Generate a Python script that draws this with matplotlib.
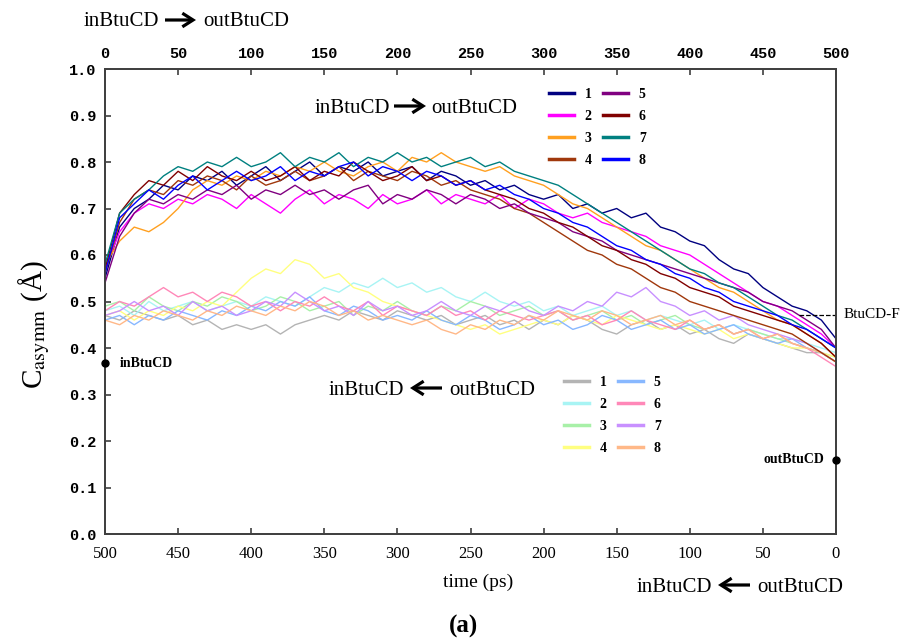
"""
Casymm vs time for the inBtuCD <-> outBtuCD transitions
"""

import numpy as np
import matplotlib
matplotlib.use('Agg')
import matplotlib.pyplot as plt
from matplotlib.patches import FancyArrowPatch

plt.rcParams['mathtext.fontset'] = 'stix'

# time grid (ps), every 10 ps
time_ps = list(range(0, 501, 10))
time_back = list(range(500, -1, -10))

# inBtuCD -> outBtuCD runs (top axis)
fwd_1 = [0.55, 0.66, 0.70, 0.72, 0.75, 0.74, 0.77, 0.76, 0.78, 0.75,
         0.77, 0.79, 0.76, 0.78, 0.80, 0.77, 0.79, 0.78, 0.80, 0.77,
         0.78, 0.79, 0.76, 0.78, 0.77, 0.75, 0.76, 0.74, 0.75, 0.73,
         0.72, 0.73, 0.70, 0.71, 0.69, 0.70, 0.68, 0.69, 0.66, 0.65,
         0.63, 0.62, 0.59, 0.57, 0.56, 0.53, 0.51, 0.49, 0.48, 0.46,
         0.42]
fwd_2 = [0.57, 0.65, 0.69, 0.71, 0.70, 0.72, 0.71, 0.73, 0.72, 0.70,
         0.73, 0.71, 0.69, 0.72, 0.74, 0.71, 0.73, 0.72, 0.70, 0.73,
         0.71, 0.72, 0.74, 0.71, 0.73, 0.72, 0.71, 0.73, 0.70, 0.72,
         0.71, 0.69, 0.68, 0.69, 0.67, 0.66, 0.65, 0.64, 0.62, 0.61,
         0.60, 0.58, 0.56, 0.54, 0.52, 0.50, 0.49, 0.47, 0.45, 0.43,
         0.40]
fwd_3 = [0.58, 0.63, 0.66, 0.65, 0.67, 0.70, 0.74, 0.76, 0.75, 0.77,
         0.76, 0.78, 0.77, 0.79, 0.78, 0.80, 0.78, 0.77, 0.79, 0.80,
         0.78, 0.81, 0.80, 0.82, 0.80, 0.79, 0.78, 0.79, 0.77, 0.76,
         0.75, 0.73, 0.71, 0.70, 0.68, 0.66, 0.64, 0.62, 0.61, 0.59,
         0.57, 0.55, 0.53, 0.52, 0.50, 0.48, 0.46, 0.45, 0.43, 0.41,
         0.38]
fwd_4 = [0.56, 0.67, 0.72, 0.74, 0.73, 0.76, 0.75, 0.77, 0.76, 0.74,
         0.77, 0.75, 0.76, 0.78, 0.76, 0.77, 0.79, 0.76, 0.78, 0.77,
         0.76, 0.78, 0.77, 0.75, 0.76, 0.74, 0.73, 0.72, 0.70, 0.69,
         0.67, 0.65, 0.63, 0.61, 0.60, 0.58, 0.57, 0.55, 0.53, 0.52,
         0.50, 0.49, 0.48, 0.47, 0.46, 0.45, 0.44, 0.43, 0.41, 0.39,
         0.37]
fwd_5 = [0.54, 0.64, 0.69, 0.72, 0.71, 0.73, 0.72, 0.74, 0.73, 0.75,
         0.72, 0.74, 0.73, 0.75, 0.73, 0.74, 0.72, 0.74, 0.75, 0.71,
         0.73, 0.72, 0.74, 0.73, 0.71, 0.73, 0.72, 0.70, 0.71, 0.69,
         0.68, 0.67, 0.65, 0.64, 0.63, 0.61, 0.60, 0.59, 0.58, 0.57,
         0.56, 0.55, 0.54, 0.53, 0.52, 0.50, 0.49, 0.48, 0.46, 0.44,
         0.40]
fwd_6 = [0.57, 0.69, 0.73, 0.76, 0.75, 0.78, 0.76, 0.79, 0.77, 0.76,
         0.78, 0.76, 0.77, 0.79, 0.76, 0.78, 0.77, 0.80, 0.78, 0.76,
         0.77, 0.79, 0.76, 0.77, 0.75, 0.76, 0.74, 0.73, 0.72, 0.70,
         0.69, 0.67, 0.66, 0.64, 0.62, 0.61, 0.59, 0.58, 0.56, 0.55,
         0.53, 0.52, 0.51, 0.49, 0.48, 0.47, 0.46, 0.45, 0.43, 0.41,
         0.38]
fwd_7 = [0.58, 0.69, 0.72, 0.74, 0.77, 0.79, 0.78, 0.80, 0.79, 0.81,
         0.79, 0.80, 0.82, 0.79, 0.81, 0.80, 0.82, 0.79, 0.81, 0.80,
         0.82, 0.80, 0.81, 0.79, 0.80, 0.81, 0.79, 0.80, 0.78, 0.77,
         0.76, 0.75, 0.73, 0.71, 0.69, 0.67, 0.65, 0.63, 0.61, 0.59,
         0.57, 0.56, 0.54, 0.53, 0.51, 0.49, 0.47, 0.46, 0.44, 0.42,
         0.40]
fwd_8 = [0.56, 0.68, 0.71, 0.74, 0.72, 0.75, 0.77, 0.74, 0.76, 0.78,
         0.76, 0.77, 0.79, 0.76, 0.78, 0.77, 0.79, 0.80, 0.77, 0.79,
         0.78, 0.76, 0.78, 0.77, 0.75, 0.76, 0.74, 0.75, 0.73, 0.72,
         0.70, 0.69, 0.67, 0.66, 0.64, 0.62, 0.61, 0.59, 0.58, 0.56,
         0.55, 0.53, 0.52, 0.50, 0.49, 0.48, 0.47, 0.45, 0.44, 0.42,
         0.40]

# inBtuCD <- outBtuCD runs (bottom axis)
back_1 = [0.47, 0.46, 0.48, 0.47, 0.46, 0.47, 0.45, 0.46, 0.44, 0.45,
          0.44, 0.45, 0.43, 0.45, 0.46, 0.47, 0.46, 0.48, 0.47, 0.46,
          0.48, 0.47, 0.46, 0.47, 0.45, 0.46, 0.47, 0.45, 0.46, 0.44,
          0.46, 0.45, 0.47, 0.46, 0.44, 0.43, 0.45, 0.46, 0.44, 0.45,
          0.43, 0.44, 0.42, 0.41, 0.43, 0.42, 0.41, 0.40, 0.39, 0.39,
          0.37]
back_2 = [0.48, 0.49, 0.47, 0.50, 0.48, 0.49, 0.50, 0.48, 0.49, 0.50,
          0.49, 0.51, 0.50, 0.49, 0.51, 0.53, 0.52, 0.54, 0.53, 0.55,
          0.53, 0.54, 0.52, 0.53, 0.51, 0.50, 0.52, 0.50, 0.49, 0.50,
          0.48, 0.49, 0.47, 0.48, 0.49, 0.47, 0.48, 0.46, 0.47, 0.46,
          0.45, 0.46, 0.44, 0.45, 0.44, 0.43, 0.42, 0.42, 0.41, 0.40,
          0.39]
back_3 = [0.49, 0.50, 0.48, 0.51, 0.49, 0.48, 0.50, 0.49, 0.51, 0.50,
          0.48, 0.49, 0.51, 0.50, 0.48, 0.49, 0.50, 0.47, 0.49, 0.48,
          0.50, 0.48, 0.47, 0.49, 0.48, 0.50, 0.49, 0.47, 0.48, 0.49,
          0.47, 0.48, 0.46, 0.47, 0.48, 0.46, 0.47, 0.45, 0.46, 0.47,
          0.45, 0.44, 0.45, 0.43, 0.44, 0.43, 0.42, 0.41, 0.40, 0.39,
          0.38]
back_4 = [0.47, 0.48, 0.46, 0.48, 0.47, 0.49, 0.48, 0.50, 0.49, 0.52,
          0.55, 0.57, 0.56, 0.59, 0.58, 0.55, 0.56, 0.53, 0.52, 0.50,
          0.49, 0.48, 0.47, 0.46, 0.45, 0.44, 0.45, 0.43, 0.44, 0.45,
          0.46, 0.45, 0.47, 0.46, 0.45, 0.47, 0.46, 0.45, 0.44, 0.45,
          0.44, 0.43, 0.44, 0.42, 0.43, 0.42, 0.41, 0.40, 0.40, 0.39,
          0.38]
back_5 = [0.46, 0.47, 0.45, 0.47, 0.46, 0.48, 0.47, 0.46, 0.48, 0.47,
          0.49, 0.48, 0.50, 0.49, 0.51, 0.48, 0.47, 0.49, 0.48, 0.46,
          0.47, 0.46, 0.48, 0.46, 0.45, 0.47, 0.46, 0.44, 0.45, 0.47,
          0.45, 0.46, 0.44, 0.45, 0.47, 0.46, 0.44, 0.45, 0.46, 0.44,
          0.45, 0.43, 0.44, 0.45, 0.43, 0.42, 0.41, 0.42, 0.40, 0.39,
          0.37]
back_6 = [0.48, 0.50, 0.49, 0.51, 0.53, 0.51, 0.52, 0.50, 0.52, 0.51,
          0.49, 0.50, 0.48, 0.50, 0.49, 0.51, 0.49, 0.48, 0.50, 0.47,
          0.49, 0.48, 0.47, 0.49, 0.47, 0.48, 0.46, 0.48, 0.47, 0.46,
          0.47, 0.48, 0.46, 0.47, 0.45, 0.46, 0.48, 0.46, 0.45, 0.44,
          0.46, 0.44, 0.45, 0.43, 0.44, 0.42, 0.43, 0.41, 0.40, 0.38,
          0.36]
back_7 = [0.47, 0.48, 0.50, 0.48, 0.49, 0.47, 0.50, 0.48, 0.49, 0.47,
          0.48, 0.50, 0.49, 0.52, 0.50, 0.48, 0.49, 0.47, 0.50, 0.48,
          0.49, 0.47, 0.48, 0.50, 0.48, 0.47, 0.49, 0.48, 0.50, 0.48,
          0.47, 0.49, 0.48, 0.50, 0.49, 0.52, 0.51, 0.53, 0.50, 0.49,
          0.47, 0.48, 0.46, 0.47, 0.45, 0.44, 0.43, 0.42, 0.41, 0.39,
          0.37]
back_8 = [0.46, 0.45, 0.47, 0.46, 0.48, 0.47, 0.46, 0.48, 0.47, 0.49,
          0.48, 0.47, 0.49, 0.48, 0.50, 0.49, 0.47, 0.48, 0.46, 0.47,
          0.46, 0.45, 0.46, 0.44, 0.43, 0.45, 0.44, 0.46, 0.45, 0.47,
          0.46, 0.48, 0.47, 0.46, 0.48, 0.47, 0.45, 0.46, 0.47, 0.45,
          0.46, 0.44, 0.45, 0.43, 0.44, 0.42, 0.43, 0.41, 0.40, 0.39,
          0.37]

fwd_runs = [fwd_1, fwd_2, fwd_3, fwd_4, fwd_5, fwd_6, fwd_7, fwd_8]
back_runs = [back_1, back_2, back_3, back_4, back_5, back_6, back_7, back_8]
run_labels = ['1', '2', '3', '4', '5', '6', '7', '8']

fwd_colors = ['#000080', '#ff00ff', '#ffa020', '#a0380c',
              '#800080', '#800000', '#008080', '#0000ff']
back_colors = ['#b4b4b4', '#a8f4f4', '#a8f0a8', '#ffff80',
               '#88b8ff', '#ff88b8', '#c890ff', '#ffb888']

# reference marks
in_level = 0.367      # inBtuCD, left axis
out_level = 0.16      # outBtuCD, right axis
bf_level = 0.472      # BtuCD-F
bf_span = [475, 500]

serif = ['Liberation Serif', 'DejaVu Serif', 'DejaVu Sans']
mono = 'Liberation Mono'
spine_col = '#404040'
W, H = 907, 643


def setup_fig():
    fig = plt.figure(figsize=[W / 100, H / 100], dpi=100)
    ax = fig.add_axes([105 / W, 1 - 534 / H, 731 / W, 465 / H])
    ax2 = ax.twiny()

    ax.set_xlim(500, 0)
    ax.set_ylim(0, 1.0)
    ax2.set_xlim(0, 500)

    ax.set_xticks(np.arange(500, -1, -50))
    ax.set_yticks(np.arange(0, 1.01, 0.1))
    ax.set_yticklabels(['%.1f' % v for v in np.arange(0, 1.01, 0.1)],
                       fontfamily=mono, fontweight='bold', fontsize=11)
    ax.set_xticklabels([str(v) for v in range(500, -1, -50)],
                       fontfamily=serif, fontsize=12)
    ax2.set_xticks(np.arange(0, 501, 50))
    ax2.set_xticklabels([str(v) for v in range(0, 501, 50)],
                        fontfamily=mono, fontweight='bold', fontsize=11)

    ax.tick_params(axis='x', direction='in', length=4, width=1.2,
                   color=spine_col, pad=9)
    ax.tick_params(axis='y', direction='in', length=4, width=1.2,
                   color=spine_col, pad=6)
    ax2.tick_params(axis='x', direction='in', length=4, width=1.2,
                    color=spine_col, pad=6)
    for a in (ax, ax2):
        for s in a.spines.values():
            s.set_color(spine_col)
            s.set_linewidth(1.3)

    ax.set_ylabel('C$_{\\rm asymm}$ (Å)', fontfamily=serif, fontsize=21)
    ax.yaxis.set_label_coords(-0.072, 0.45)
    return fig, ax, ax2


def plot_runs(ax, ax2):
    back_lines = []
    for vals, col, lab in zip(back_runs, back_colors, run_labels):
        ln, = ax.plot(time_back, vals, color=col, lw=1.0, label=lab)
        back_lines.append(ln)
    fwd_lines = []
    for vals, col, lab in zip(fwd_runs, fwd_colors, run_labels):
        ln, = ax2.plot(time_ps, vals, color=col, lw=1.0, label=lab)
        fwd_lines.append(ln)

    leg_font = {'family': serif, 'weight': 'bold', 'size': 10}
    leg_kw = dict(ncol=2, frameon=False, prop=leg_font, loc='upper left',
                  bbox_transform=ax2.figure.transFigure, handlelength=1.8,
                  columnspacing=0.8, labelspacing=0.65, handletextpad=0.8)
    leg1 = ax2.legend(handles=fwd_lines, bbox_to_anchor=(536 / W, 1 - 75 / H),
                      **leg_kw)
    ax2.add_artist(leg1)
    leg2 = ax2.legend(handles=back_lines, bbox_to_anchor=(551 / W, 1 - 363 / H),
                      **leg_kw)
    for lg in (leg1, leg2):
        for ln in lg.get_lines():
            ln.set_linewidth(2.5)


def arrow_label(fig, in_end, arr, out_start, base_y, arr_y, pointing_right):
    # "inBtuCD", a heavy arrow, "outBtuCD"; all positions in pixels
    fig.text(in_end / W, 1 - base_y / H, 'inBtuCD', fontfamily=serif,
             fontsize=15, ha='right', va='baseline')
    fig.text(out_start / W, 1 - base_y / H, 'outBtuCD', fontfamily=serif,
             fontsize=15, ha='left', va='baseline')
    a0, a1 = arr if pointing_right else arr[::-1]
    fig.add_artist(FancyArrowPatch((a0 / W, 1 - arr_y / H), (a1 / W, 1 - arr_y / H),
                                   transform=fig.transFigure,
                                   arrowstyle='->,head_length=0.55,head_width=0.35',
                                   mutation_scale=14, lw=2.3, color='black',
                                   shrinkA=0, shrinkB=0, capstyle='butt',
                                   joinstyle='miter'))


def plot_marks(fig, ax2):
    ax2.plot([0], [in_level], 'o', color='black', ms=5, clip_on=False, zorder=5)
    ax2.plot([500], [out_level], 'o', color='black', ms=5, clip_on=False, zorder=5)
    ax2.plot(bf_span, [bf_level, bf_level], '--', color='black', lw=0.9)

    ax2.text(10, in_level, 'inBtuCD', fontfamily=serif, fontweight='bold',
             fontsize=10, va='center', ha='left')
    ax2.text(492, out_level, 'outBtuCD', fontfamily=serif, fontweight='bold',
             fontsize=10, va='center', ha='right')
    ax2.text(505, bf_level, 'BtuCD-F', fontfamily=serif, fontsize=11,
             va='center', ha='left', clip_on=False)

    arrow_label(fig, 159, (165, 196), 203, 26, 20, True)
    arrow_label(fig, 390, (394, 426), 431, 113, 106, True)
    arrow_label(fig, 404, (410, 442), 449, 395, 388, False)
    arrow_label(fig, 712, (718, 750), 757, 592, 585, False)

    fig.text(478 / W, 1 - 587 / H, 'time (ps)', fontfamily=serif,
             fontsize=14, ha='center', va='baseline')
    fig.text(463 / W, 1 - 633 / H, '(a)', fontfamily=serif, fontweight='bold',
             fontsize=18, ha='center', va='baseline')


if __name__ == "__main__":
    fig, ax, ax2 = setup_fig()
    plot_runs(ax, ax2)
    plot_marks(fig, ax2)
    fig.savefig('out.png', dpi=100)
